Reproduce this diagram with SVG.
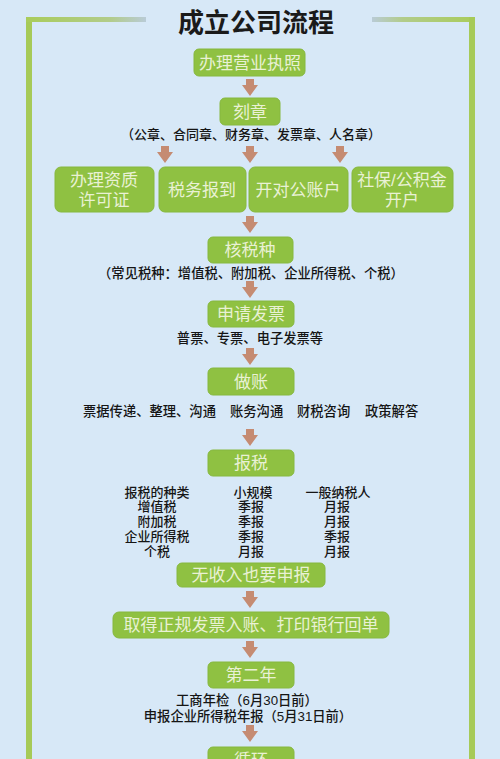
<svg xmlns="http://www.w3.org/2000/svg" width="500" height="759" viewBox="0 0 500 759">
<defs>
<linearGradient id="gl" x1="0" y1="0" x2="1" y2="0"><stop offset="0" stop-color="#a9cc5b"/><stop offset="0.7" stop-color="#b2cc8a"/><stop offset="1" stop-color="#b9cbd6"/></linearGradient>
<linearGradient id="gr" x1="1" y1="0" x2="0" y2="0"><stop offset="0" stop-color="#a9cc5b"/><stop offset="0.7" stop-color="#b2cc8a"/><stop offset="1" stop-color="#b9cbd6"/></linearGradient>
<path id="arr" d="M-4,0 H4 V6 H8 L0,17 L-8,6 H-4 Z" fill="#c58b72"/>
<style>
.box{fill:#8fc142;stroke:#86b83e;stroke-width:1}
.bt{font-family:"Liberation Sans","Noto Sans CJK SC",sans-serif;font-size:17px;fill:#e9f1d4;text-anchor:middle}
.t{font-family:"Liberation Sans","Noto Sans CJK SC",sans-serif;font-size:13px;fill:#151515;text-anchor:middle;font-weight:500}
.ts{font-family:"Liberation Sans","Noto Sans CJK SC",sans-serif;font-size:13.3px;fill:#151515;font-weight:500}
.title{font-family:"Liberation Sans","Noto Sans CJK SC",sans-serif;font-size:26px;fill:#1a1a1a;text-anchor:middle;font-weight:700}
</style>
</defs>
<rect width="500" height="759" fill="#d7e8f7"/>
<g id="frame">
<rect x="26" y="17" width="6" height="742" fill="#a6ca58"/>
<rect x="26" y="17" width="120" height="5" fill="url(#gl)"/>
<rect x="372" y="17" width="103" height="5" fill="url(#gr)"/>
<rect x="469" y="17" width="6" height="742" fill="#a6ca58"/>
</g>
<text class="title" x="256" y="32">成立公司流程</text>
<g id="connectors">
<use href="#arr" x="250" y="79"/>
<use href="#arr" x="165" y="146"/>
<use href="#arr" x="250" y="146"/>
<use href="#arr" x="340" y="146"/>
<use href="#arr" x="250" y="216"/>
<use href="#arr" x="250" y="281"/>
<use href="#arr" x="250" y="348"/>
<use href="#arr" x="250" y="429"/>
<use href="#arr" x="250" y="591"/>
<use href="#arr" x="250" y="641"/>
<use href="#arr" x="250" y="725"/>
</g>
<g id="n1"><rect class="box" x="194" y="49" width="111" height="27" rx="5"/><text class="bt" x="250" y="69">办理营业执照</text></g>
<g id="n2"><rect class="box" x="220" y="98" width="60" height="27" rx="5"/><text class="bt" x="250" y="118">刻章</text>
<text class="t" x="251" y="139">（公章、合同章、财务章、发票章、人名章）</text></g>
<g id="n3"><rect class="box" x="55" y="167" width="99" height="45" rx="6"/><text class="bt" x="104" y="186">办理资质</text><text class="bt" x="104" y="206">许可证</text></g>
<g id="n4"><rect class="box" x="159" y="167" width="87" height="45" rx="6"/><text class="bt" x="202" y="196">税务报到</text></g>
<g id="n5"><rect class="box" x="249" y="167" width="99" height="45" rx="6"/><text class="bt" x="298" y="196">开对公账户</text></g>
<g id="n6"><rect class="box" x="352" y="167" width="101" height="45" rx="6"/><text class="bt" x="402" y="186">社保/公积金</text><text class="bt" x="402" y="206">开户</text></g>
<g id="n7"><rect class="box" x="208" y="237" width="85" height="26" rx="5"/><text class="bt" x="250" y="256">核税种</text>
<text class="ts" x="251" y="278" text-anchor="middle">（常见税种：增值税、附加税、企业所得税、个税）</text></g>
<g id="n8"><rect class="box" x="208" y="301" width="86" height="26" rx="5"/><text class="bt" x="251" y="320">申请发票</text>
<text class="ts" x="250" y="343" text-anchor="middle">普票、专票、电子发票等</text></g>
<g id="n9"><rect class="box" x="208" y="368" width="86" height="27" rx="5"/><text class="bt" x="251" y="388">做账</text>
<text class="ts" y="416"><tspan x="83">票据传递、整理、沟通</tspan><tspan x="230">账务沟通</tspan><tspan x="297">财税咨询</tspan><tspan x="365">政策解答</tspan></text></g>
<g id="n10"><rect class="box" x="208" y="450" width="86" height="26" rx="5"/><text class="bt" x="251" y="469">报税</text>
<g class="table">
<text class="t" x="157" y="497">报税的种类</text><text class="t" x="253" y="497">小规模</text><text class="t" x="338" y="497">一般纳税人</text>
<text class="t" x="157" y="511">增值税</text><text class="t" x="251" y="511">季报</text><text class="t" x="337" y="511">月报</text>
<text class="t" x="157" y="526">附加税</text><text class="t" x="251" y="526">季报</text><text class="t" x="337" y="526">月报</text>
<text class="t" x="157" y="541">企业所得税</text><text class="t" x="251" y="541">季报</text><text class="t" x="337" y="541">季报</text>
<text class="t" x="157" y="556">个税</text><text class="t" x="251" y="556">月报</text><text class="t" x="337" y="556">月报</text>
</g></g>
<g id="n11"><rect class="box" x="177" y="563" width="148" height="24" rx="5"/><text class="bt" x="251" y="581">无收入也要申报</text></g>
<g id="n12"><rect class="box" x="113" y="612" width="276" height="26" rx="6"/><text class="bt" x="251" y="631">取得正规发票入账、打印银行回单</text></g>
<g id="n13"><rect class="box" x="208" y="662" width="86" height="26" rx="5"/><text class="bt" x="251" y="681">第二年</text>
<text class="ts" x="247" y="705" text-anchor="middle">工商年检（6月30日前）</text>
<text class="ts" x="248" y="721" text-anchor="middle">申报企业所得税年报（5月31日前）</text></g>
<g id="n14"><rect class="box" x="208" y="747" width="86" height="26" rx="5"/><text class="bt" x="251" y="766">循环</text></g>
</svg>
